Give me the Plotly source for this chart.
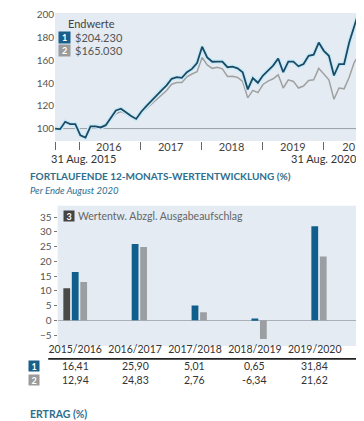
import plotly.graph_objects as go

W, H = 364, 421

# ---------------- data ----------------
months = list(range(61))  # 31 Aug 2015 .. 31 Aug 2020, monthly
fund = [100, 99.5, 106, 104, 104, 94, 92, 102, 102, 101, 103, 110, 116, 117.5, 114, 111, 108.5,
        114.8, 119.7, 124.6, 129.3, 133.6, 138, 143.8, 145.2, 144.6, 149.6, 152.5, 157.7, 172,
        162.6, 158.8, 159, 159, 154, 154.5, 153, 149.6, 134.5, 144.4, 140.3, 146.7, 151, 155.4,
        161.7, 149.6, 159, 159, 154.8, 156.8, 164, 165, 175.7, 168.4, 164, 146.7, 156.8, 156.8,
        175.7, 190, 204.23]
index = [100, 99, 105, 103, 103, 93, 91.5, 101, 101, 101, 103, 108, 113, 115, 113, 110, 108,
         113.5, 117.5, 121.5, 126, 130, 133.5, 139, 140.5, 140.5, 145.5, 148, 150, 162.6,
         156, 153, 154, 152.5, 145.8, 146, 145, 141.5, 127, 133.6, 131.6, 138.8, 141.7, 143.8,
         147.3, 135.7, 142.9, 141.5, 135.7, 137.4, 142.3, 142.9, 153, 148, 142.9, 125.8, 135.7,
         135, 145.2, 158.3, 165.03]
end_values = ["$204.230", "$165.030"]
year_labels = ["2016", "2017", "2018", "2019", "20"]
year_label_pos = [10.6, 22.8, 34.8, 46.9, 57.9]
year_tick_pos = [0, 4.8, 16.8, 28.8, 40.9, 52.9, 60]

periods = ["2015/2016", "2016/2017", "2017/2018", "2018/2019", "2019/2020"]
perf_fund = [16.41, 25.90, 5.01, 0.65, 31.84]
perf_index = [12.94, 24.83, 2.76, -6.34, 21.62]
perf_load = [10.87, None, None, None, None]

# ---------------- style ----------------
FONT = "Lato"
BG = "#e4ebf2"
DARK = "#1b4a66"
BLUE = "#105e8c"
GREY = "#9b9fa3"
DGREY = "#4a4a4a"
TITLE = "#2e6e8e"


def px(x):
    return x / W


def py(y):
    return 1 - y / H


fig = go.Figure()

# line chart
fig.add_trace(go.Scatter(x=months, y=index, mode="lines", line=dict(color="#a0a0a0", width=1.5),
                         xaxis="x", yaxis="y", showlegend=False, hoverinfo="skip"))
fig.add_trace(go.Scatter(x=months, y=fund, mode="lines", line=dict(color="#c9eaf6", width=4.5),
                         xaxis="x", yaxis="y", showlegend=False, hoverinfo="skip"))
fig.add_trace(go.Scatter(x=months, y=fund, mode="lines", line=dict(color=DARK, width=1.8),
                         xaxis="x", yaxis="y", showlegend=False))

# bar chart
fig.add_trace(go.Bar(x=periods, y=perf_load, marker=dict(color=DGREY, line=dict(width=0)),
                     xaxis="x2", yaxis="y2", showlegend=False))
fig.add_trace(go.Bar(x=periods, y=perf_fund, marker=dict(color=BLUE, line=dict(width=0)),
                     xaxis="x2", yaxis="y2", showlegend=False))
fig.add_trace(go.Bar(x=periods, y=perf_index, marker=dict(color=GREY, line=dict(width=0)),
                     xaxis="x2", yaxis="y2", showlegend=False))

axis_font = dict(family=FONT, size=10, color="#555")

fig.update_layout(
    width=W, height=H,
    margin=dict(l=0, r=0, t=0, b=0),
    paper_bgcolor="white",
    plot_bgcolor=BG,
    font=dict(family=FONT),
    barmode="group",
    bargap=0.575,
    bargroupgap=0.2,
    xaxis=dict(domain=[px(39), px(351)], range=[0, 60], anchor="y",
               showgrid=False, zeroline=False, showline=False,
               tickmode="array", tickvals=year_label_pos, ticktext=year_labels,
               ticks="", tickfont=dict(family=FONT, size=11, color="#444"),
               ticklabelstandoff=-2,
               minor=dict(tickmode="array", tickvals=year_tick_pos, ticks="outside",
                          ticklen=8, tickwidth=1, tickcolor="#666")),
    yaxis=dict(domain=[py(129.5), 1], range=[89.1, 201.7], anchor="x",
               showgrid=False, zeroline=False, showline=False,
               tickmode="array", tickvals=[100, 120, 140, 160, 180, 200],
               ticks="", tickfont=axis_font, ticklabeloverflow="allow"),
    xaxis2=dict(domain=[px(41.7), px(351)], range=[-0.293, 4.744], anchor="y2",
                type="category", showgrid=False, zeroline=False, showline=False,
                ticks="", tickfont=dict(family=FONT, size=10.5, color="#333"),
                ticklabelstandoff=-4),
    yaxis2=dict(domain=[py(337), py(195)], range=[-8.71, 38.85], anchor="x2",
                showgrid=False, zeroline=True, zerolinecolor="#a9b0b6", zerolinewidth=1,
                showline=False, tickmode="array", tickvals=[-5, 0, 5, 10, 15, 20, 25, 30, 35],
                ticks="outside", ticklen=3, tickcolor="#777", tickfont=axis_font),
)

# baseline at 100
fig.add_shape(type="line", xref="x domain", yref="y", x0=0, x1=1, y0=100, y1=100,
              line=dict(color="#9aa0a6", width=1), layer="below")
# table rule under period labels
fig.add_shape(type="line", xref="paper", yref="paper", x0=px(32), x1=px(351), y0=py(350), y1=py(350),
              line=dict(color="#222", width=1.6))

ann = []


def box(x, y, label, color, size=10):
    ann.append(dict(xref="paper", yref="paper", x=px(x), y=py(y), xanchor="center", yanchor="middle",
                    text="<b>%s</b>" % label, showarrow=False, bgcolor=color, width=size, height=size,
                    borderpad=0, font=dict(family=FONT, size=9, color="white")))


def text(x, y, s, size=10.5, color="#444", anchor="left", family=FONT):
    ann.append(dict(xref="paper", yref="paper", x=px(x), y=py(y), xanchor=anchor, yanchor="middle",
                    text=s, showarrow=False, font=dict(family=family, size=size, color=color)))


# line-chart legend
text(50, 11, "Endwerte", size=11, color="#444")
box(49, 24.5, "1", "#1a5f8a", 11)
box(49, 37.5, "2", "#9b9b9b", 11)
text(57, 24.5, end_values[0], size=11, color="#555")
text(57, 37.5, end_values[1], size=11, color="#555")

# date range labels
text(33, 147, "31 Aug. 2015", size=11, color="#333")
text(351, 147, "31 Aug. 2020", size=11, color="#333", anchor="right")

# section titles
text(11, 165, "<b>FORTLAUFENDE 12-MONATS-WERTENTWICKLUNG (%)</b>", size=10, color=TITLE)
text(11, 180, "<i>Per Ende August 2020</i>", size=9.5, color=TITLE)
text(11, 406, "<b>ERTRAG (%)</b>", size=10.5, color=TITLE)
text(96, 423, "KUMULATIV", size=9, color="#666")
text(214, 423, "JÄHRLICHE WERTENTWICKLUNG", size=9, color="#666")

# bar legend
box(53, 205, "3", "#444", 10)
text(60, 205, "Wertentw. Abzgl. Ausgabeaufschlag", size=10.5, color="#666")

# table rows
box(17.5, 357, "1", "#1a5f8a", 10)
box(17.5, 371, "2", "#9b9b9b", 10)
for p, a, b in zip(periods, perf_fund, perf_index):
    ann.append(dict(xref="x2", yref="paper", x=p, y=py(357), xanchor="center", yanchor="middle",
                    text=f"{a:.2f}".replace(".", ","), showarrow=False,
                    font=dict(family=FONT, size=10.5, color="#333")))
    ann.append(dict(xref="x2", yref="paper", x=p, y=py(371), xanchor="center", yanchor="middle",
                    text=f"{b:.2f}".replace(".", ","), showarrow=False,
                    font=dict(family=FONT, size=10.5, color="#333")))

fig.update_layout(annotations=ann)
fig.write_html("out.html")
